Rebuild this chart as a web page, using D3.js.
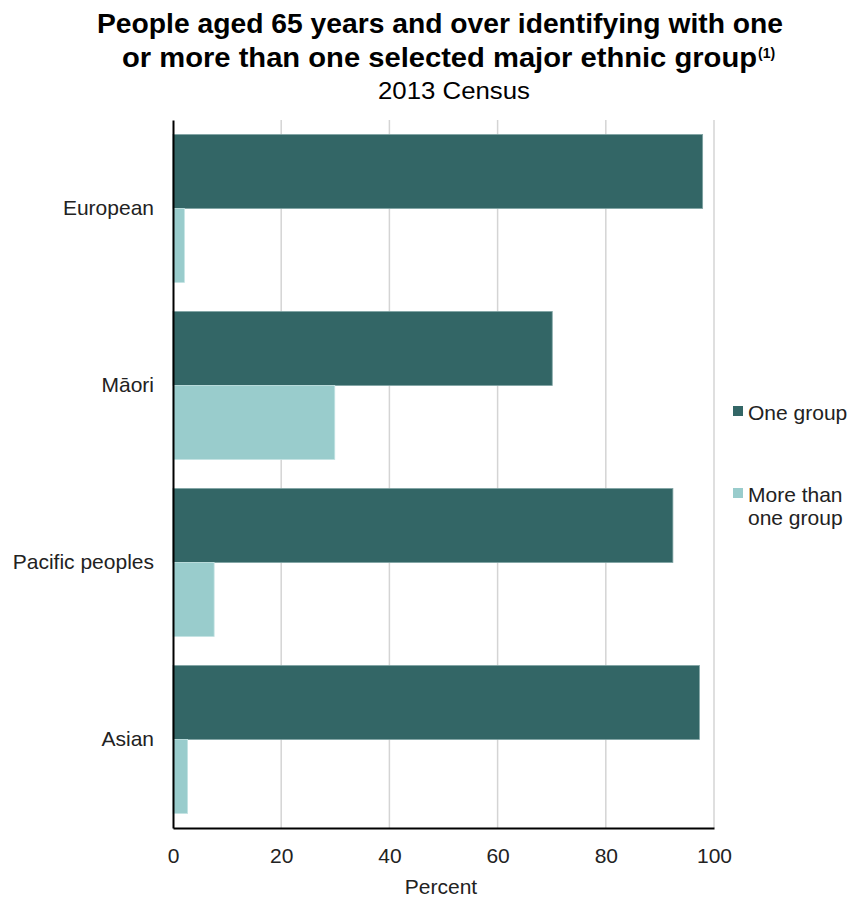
<!DOCTYPE html>
<html>
<head>
<meta charset="utf-8">
<script src="https://cdn.jsdelivr.net/npm/d3@7"></script>
<style>
  html, body { margin: 0; padding: 0; background: #fff; }
  svg { display: block; font-family: "Liberation Sans", Arial, sans-serif; }
</style>
</head>
<body>
<svg id="chart" width="850" height="899"></svg>
<script>
// Ethnic groups (top to bottom)
const categories = ["European", "Māori", "Pacific peoples", "Asian"];
// Percent identifying with one group / more than one group
const oneGroup = [97.9, 70.1, 92.4, 97.3];
const moreThanOne = [2.1, 29.9, 7.6, 2.7];
const seriesNames = ["One group", "More than one group"];
const seriesColors = ["#336666", "#99cccc"];
const xTicks = [0, 20, 40, 60, 80, 100];

const svg = d3.select("#chart");
const margin = { left: 173, right: 136, top: 120, bottom: 71 };
const W = 850, H = 899;
const labelFont = 21;

const x = d3.scaleLinear().domain([0, 100]).range([margin.left, W - margin.right]);
const y = d3.scaleBand().domain(categories).range([margin.top, H - margin.bottom]).paddingInner(0.164).paddingOuter(0.082);
const ySub = d3.scaleBand().domain([0, 1]).range([0, y.bandwidth()]);

// Title block
const title = svg.append("g").attr("fill", "#000");
title.append("text").attr("x", 97).attr("y", 33)
  .attr("font-size", 27).attr("font-weight", "bold")
  .attr("textLength", 686).attr("lengthAdjust", "spacingAndGlyphs")
  .text("People aged 65 years and over identifying with one");
title.append("text").attr("x", 122).attr("y", 67)
  .attr("font-size", 27).attr("font-weight", "bold")
  .attr("textLength", 635).attr("lengthAdjust", "spacingAndGlyphs")
  .text("or more than one selected major ethnic group");
title.append("text").attr("x", 758).attr("y", 58)
  .attr("font-size", 14).attr("font-weight", "bold")
  .text("(1)");
title.append("text").attr("x", 378).attr("y", 99)
  .attr("font-size", 23)
  .attr("textLength", 152).attr("lengthAdjust", "spacingAndGlyphs")
  .text("2013 Census");

// Vertical gridlines
svg.append("g").selectAll("line").data(xTicks.filter(d => d > 0)).join("line")
  .attr("x1", d => x(d)).attr("x2", d => x(d))
  .attr("y1", margin.top).attr("y2", H - margin.bottom)
  .attr("stroke", "#d4d4d4").attr("stroke-width", 1.5);

// Bars
const groups = svg.append("g").selectAll("g").data(categories).join("g")
  .attr("transform", d => `translate(0,${y(d)})`);
groups.each(function (cat, i) {
  const vals = [oneGroup[i], moreThanOne[i]];
  d3.select(this).selectAll("rect").data(vals).join("rect")
    .attr("x", x(0))
    .attr("y", (d, j) => ySub(j))
    .attr("width", d => x(d) - x(0))
    .attr("height", ySub.bandwidth())
    .attr("fill", (d, j) => seriesColors[j])
    .attr("stroke", (d, j) => j === 0 ? "#7fa3a3" : "#c3e3e3")
    .attr("stroke-width", 0.8);
});

// Axes
const xAxis = d3.axisBottom(x).tickValues(xTicks).tickSize(0).tickPadding(20).tickFormat(d3.format("d"));
const gx = svg.append("g").attr("transform", `translate(0,${H - margin.bottom})`).call(xAxis);
gx.select(".domain").attr("stroke", "#000").attr("stroke-width", 2);
gx.selectAll("text").attr("font-size", labelFont).attr("fill", "#222").attr("font-family", "Liberation Sans, Arial, sans-serif");

const yAxis = d3.axisLeft(y).tickSize(0).tickPadding(19);
const gy = svg.append("g").attr("transform", `translate(${x(0)},0)`).call(yAxis);
gy.select(".domain").attr("stroke", "#000").attr("stroke-width", 2);
gy.selectAll("text").attr("font-size", labelFont).attr("fill", "#222").attr("font-family", "Liberation Sans, Arial, sans-serif");

// Axis title
svg.append("text").attr("x", 441).attr("y", 894).attr("text-anchor", "middle")
  .attr("font-size", labelFont).attr("fill", "#222").text("Percent");

// Legend
const legend = svg.append("g").attr("font-size", labelFont).attr("fill", "#222");
const legendItems = [
  { y: 406, lines: ["One group"] },
  { y: 488, lines: ["More than", "one group"] }
];
legendItems.forEach((item, i) => {
  legend.append("rect").attr("x", 733).attr("y", item.y).attr("width", 10).attr("height", 10)
    .attr("fill", seriesColors[i]);
  const t = legend.append("text").attr("x", 748).attr("y", item.y + 14);
  item.lines.forEach((l, k) => t.append("tspan").attr("x", 748).attr("dy", k === 0 ? 0 : 23).text(l));
});
</script>
</body>
</html>
